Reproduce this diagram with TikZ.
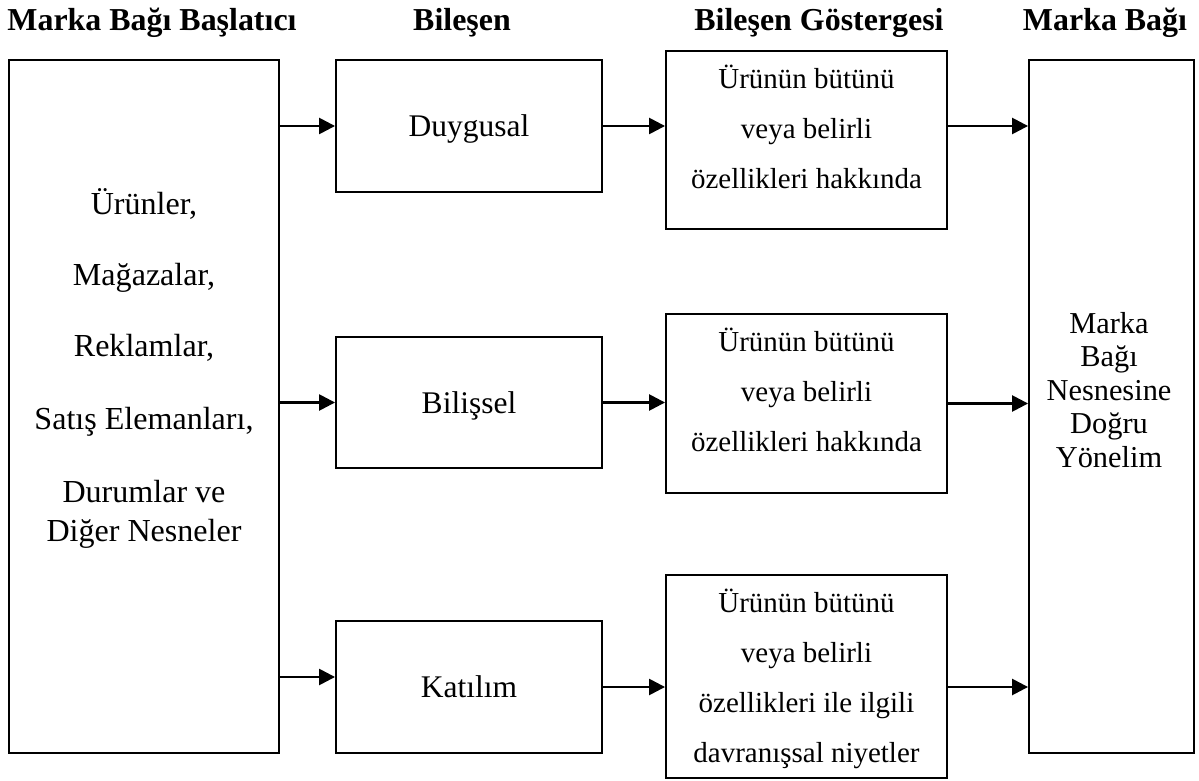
\documentclass[tikz,border=0pt]{standalone}
\usepackage{fontspec}
\setmainfont{Liberation Serif}
\usetikzlibrary{arrows.meta,positioning}
\definecolor{ink}{HTML}{000000}
\newcommand{\bodyfont}{\fontsize{22.4pt}{26pt}\selectfont}
\newcommand{\headfont}{\fontsize{22.7pt}{26pt}\selectfont\bfseries}
\tikzset{
  box/.style={draw=ink, line width=1.3pt, rectangle, inner sep=0pt, font=\bodyfont, text depth=0pt},
  flow/.style={draw=ink, line width=1.8pt, -{Triangle[length=0.4cm,width=0.4cm]}},
  heading/.style={font=\headfont, text=ink, anchor=base, inner sep=0pt},
  srclines/.style={align=center, inner sep=0pt, font=\fontsize{22.8pt}{27.7pt}\selectfont},
  indlines/.style={align=center, inner sep=0pt, font=\fontsize{20.6pt}{35.6pt}\selectfont},
  tgtlines/.style={align=center, inner sep=0pt, font=\fontsize{21.6pt}{23.8pt}\selectfont}
}

\begin{document}
\begin{tikzpicture}[x=0.025cm, y=-0.025cm]
  \useasboundingbox (0,0) rectangle (1199,781);
  % column headings
  \node[heading] (ttlsrc)  at (152,31)  {Marka Bağı Başlatıcı};
  \node[heading] (ttlcomp) at (462,31)  {Bileşen};
  \node[heading] (ttlind)  at (819,31)  {Bileşen Göstergesi};
  \node[heading] (ttltgt)  at (1105,31) {Marka Bağı};

  % boxes
  \node[box, minimum width=6.75cm, minimum height=17.325cm] (src) at (144,406.5) {};
  \node[box, minimum width=6.65cm, minimum height=3.3cm] (duy) at (469,126) {Duygusal};
  \node[box, minimum width=6.65cm, minimum height=3.275cm] (bil) at (469,402.5) {Bilişsel};
  \node[box, minimum width=6.65cm, minimum height=3.3cm] (kat) at (469,687) {Katılım};
  \node[box, minimum width=7.025cm, minimum height=4.45cm] (ind1) at (806.5,140) {};
  \node[box, minimum width=7.025cm, minimum height=4.475cm] (ind2) at (806.5,403.5) {};
  \node[box, minimum width=7.025cm, minimum height=5.075cm] (ind3) at (806.5,676.5) {};
  \node[box, minimum width=4.125cm, minimum height=17.325cm] (tgt) at (1111.5,406.5) {};

  % texts inside the tall and the indicator boxes
  \node[srclines, anchor=north] (srctext) at (144,188) {Ürünler,\\[0.8cm] Mağazalar,\\[0.8cm] Reklamlar,\\[0.85cm]
    Satış Elemanları,\\[0.85cm] Durumlar ve\\ Diğer Nesneler};
  \node[indlines, below=0.375cm of ind1.north] (ind1text) {Ürünün bütünü\\ veya belirli\\ özellikleri hakkında};
  \node[indlines, below=0.375cm of ind2.north] (ind2text) {Ürünün bütünü\\ veya belirli\\ özellikleri hakkında};
  \node[indlines, below=0.375cm of ind3.north] (ind3text) {Ürünün bütünü\\ veya belirli\\ özellikleri ile ilgili\\ davranışsal niyetler};
  \node[tgtlines, anchor=north] (tgttext) at (1109,312) {Marka\\ Bağı\\ Nesnesine\\ Doğru\\ Yönelim};

  % arrows
  \coordinate (katin) at ([yshift=0.25cm]kat.west);
  \draw[flow] (src.east |- duy.west) -- (duy.west);
  \draw[flow] (src.east |- bil.west) -- (bil.west);
  \draw[flow] (src.east |- katin) -- (katin);
  \draw[flow] (duy.east) -- (duy.east -| ind1.west);
  \draw[flow] (bil.east) -- (bil.east -| ind2.west);
  \draw[flow] (kat.east) -- (kat.east -| ind3.west);
  \draw[flow] (ind1.east |- duy.east) -- (tgt.west |- duy.east);
  \draw[flow] (ind2.east) -- (ind2.east -| tgt.west);
  \draw[flow] (ind3.east |- kat.east) -- (tgt.west |- kat.east);
\end{tikzpicture}
\end{document}
